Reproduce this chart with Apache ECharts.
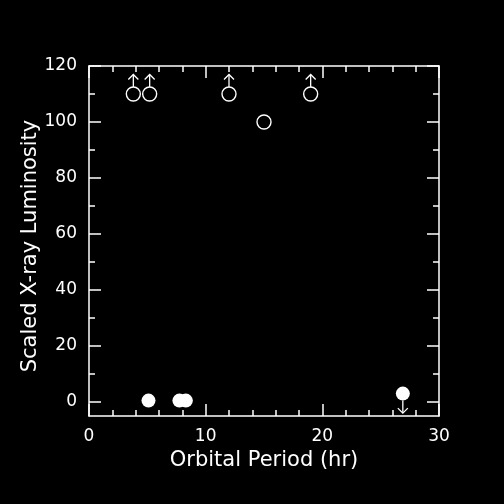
<!DOCTYPE html>
<html><head><meta charset="utf-8">
<script src="https://cdn.jsdelivr.net/npm/echarts@6/dist/echarts.min.js"></script>
<style>html,body{margin:0;padding:0;background:#000}#c{width:504px;height:504px}</style>
</head><body><div id="c"></div>
<script>
// Data
const openX = [3.8, 5.2, 12, 19, 15];
const openY = [110, 110, 110, 110, 100];
const openArrow = ['up', 'up', 'up', 'up', null];
const filledX = [5.1, 7.75, 8.3, 26.9];
const filledY = [0.5, 0.5, 0.5, 3];
const filledArrow = [null, null, null, 'down'];
const xTicks = [0, 10, 20, 30];
const yMajorTicks = [0, 20, 40, 60, 80, 100, 120];
const yMinorTicks = [10, 30, 50, 70, 90, 110];

const FONT = 'DejaVu Sans';
const W = '#fff';

const openData = openX.map((x, i) => [x, openY[i]]);
const filledData = filledX.map((x, i) => [x, filledY[i]]);
const arrowData = [];
openX.forEach((x, i) => { if (openArrow[i]) arrowData.push([x, openY[i], openArrow[i] === 'up' ? 1 : -1]); });
filledX.forEach((x, i) => { if (filledArrow[i]) arrowData.push([x, filledY[i], filledArrow[i] === 'up' ? 1 : -1]); });

function yAx(pos, ticks, len, showLabel, showLine) {
  return {
    type: 'value', position: pos, min: -5, max: 120,
    splitLine: { show: false },
    axisLine: { show: showLine, onZero: false, lineStyle: { color: W, width: 1.5 } },
    axisTick: { show: true, inside: true, length: len, customValues: ticks, lineStyle: { color: W, width: 1.5 } },
    axisLabel: showLabel ? { show: true, customValues: ticks, color: W, fontFamily: FONT, fontSize: 17, margin: 12 } : { show: false },
    name: showLabel ? 'Scaled X-ray Luminosity' : '',
    nameLocation: 'middle', nameGap: 48, nameMoveOverlap: false,
    nameTextStyle: { color: W, fontFamily: FONT, fontSize: 21, padding: [0, 10, 0, 0] }
  };
}
function xAx(pos, showLabel) {
  return {
    type: 'value', position: pos, min: xTicks[0], max: xTicks[xTicks.length - 1], interval: 10,
    splitLine: { show: false },
    axisLine: { show: true, onZero: false, lineStyle: { color: W, width: 1.5 } },
    axisTick: { show: true, inside: true, length: 12, lineStyle: { color: W, width: 1.5 } },
    minorTick: { show: true, splitNumber: 5, length: 6, lineStyle: { color: W, width: 1.5 } },
    axisLabel: showLabel ? { show: true, color: W, fontFamily: FONT, fontSize: 17, margin: 12 } : { show: false },
    name: showLabel ? 'Orbital Period (hr)' : '',
    nameLocation: 'middle', nameGap: 34,
    nameTextStyle: { color: W, fontFamily: FONT, fontSize: 21 }
  };
}

const chart = echarts.init(document.getElementById('c'));
chart.setOption({
  backgroundColor: '#000',
  animation: false,
  grid: { left: 89, right: 65, top: 66, bottom: 88 },
  xAxis: [xAx('bottom', true), xAx('top', false)],
  yAxis: [
    yAx('left', yMajorTicks, 12, true, true),
    yAx('left', yMinorTicks, 6, false, false),
    yAx('right', yMajorTicks, 12, false, true),
    yAx('right', yMinorTicks, 6, false, false)
  ],
  series: [
    {
      type: 'custom', xAxisIndex: 0, yAxisIndex: 0, data: arrowData, z: 1,
      renderItem: function (params, api) {
        const p = api.coord([api.value(0), api.value(1)]);
        const d = api.value(2);
        const x = p[0], y0 = p[1] - d * 7, y1 = p[1] - d * 19.5;
        return {
          type: 'group',
          children: [
            { type: 'line', shape: { x1: x, y1: y0, x2: x, y2: y1 }, style: { stroke: W, lineWidth: 1.3 } },
            { type: 'polyline', shape: { points: [[x - 5, y1 + d * 5], [x, y1], [x + 5, y1 + d * 5]] }, style: { stroke: W, lineWidth: 1.3, fill: null } }
          ]
        };
      }
    },
    {
      type: 'scatter', xAxisIndex: 0, yAxisIndex: 0, data: openData, symbol: 'circle', symbolSize: 14, z: 2,
      itemStyle: { color: 'transparent', borderColor: W, borderWidth: 1.4, opacity: 1 }
    },
    {
      type: 'scatter', xAxisIndex: 0, yAxisIndex: 0, data: filledData, symbol: 'circle', symbolSize: 14, z: 2,
      itemStyle: { color: W, borderWidth: 0, opacity: 1 }
    }
  ]
});
</script></body></html>
